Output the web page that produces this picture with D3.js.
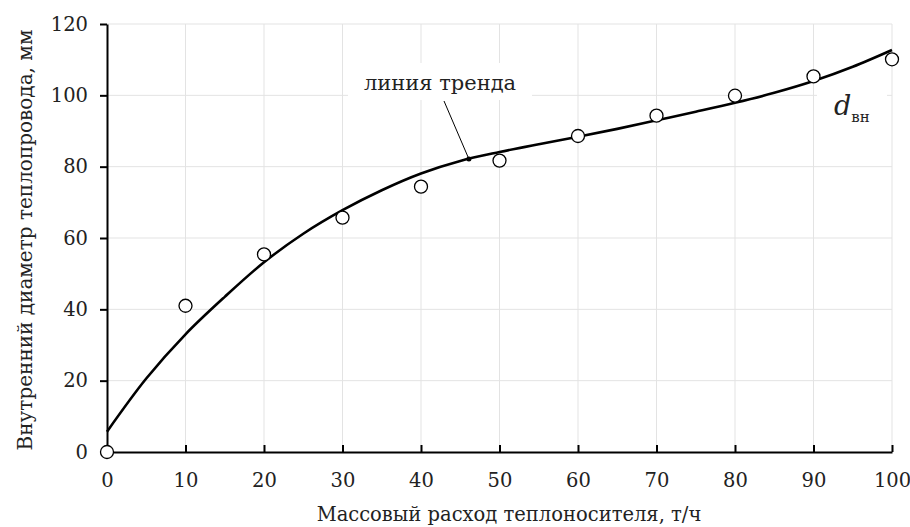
<!DOCTYPE html>
<html>
<head>
<meta charset="utf-8">
<script src="https://cdn.jsdelivr.net/npm/d3@7"></script>
<style>
  body { margin: 0; background: #fff; }
  text { font-family: "DejaVu Serif", serif; fill: #222; }
</style>
</head>
<body>
<div id="container"></div>
<script>
/* DATA */
const flowX = [0, 10, 20, 30, 40, 50, 60, 70, 80, 90, 100];
const diamY = [0, 41.0, 55.4, 65.7, 74.4, 81.7, 88.6, 94.3, 99.9, 105.3, 110.1];
// trend line
const trendX = [0, 5, 10, 15, 20, 25, 30, 35, 40, 45, 50, 55, 60, 65, 70, 75, 80, 85, 90, 95, 100];
const trendY = [5.7, 20.6, 33, 43.5, 53.2, 61.2, 67.8, 73.4, 78.1, 81.6, 84.1, 86.3, 88.4, 90.6, 93.0, 95.4, 97.9, 100.7, 104, 108, 112.7];
const xTicks = [0, 10, 20, 30, 40, 50, 60, 70, 80, 90, 100];
const yTicks = [0, 20, 40, 60, 80, 100, 120];
const calloutX = 46.1;

/* CONSTANTS */
const width = 910, height = 527;
const margin = {top: 24, bottom: 75, left: 107, right: 18};

const svg = d3.select("#container").append("svg")
  .attr("width", width).attr("height", height);

/* SCALES */
const xScale = d3.scaleLinear().domain([0, 100]).range([margin.left, width - margin.right]);
const yScale = d3.scaleLinear().domain([0, 120]).range([height - margin.bottom, margin.top]);

// grid
svg.append("g").selectAll("line.vg")
  .data(xTicks.slice(1))
  .join("line")
  .attr("x1", d => xScale(d)).attr("x2", d => xScale(d))
  .attr("y1", yScale(0)).attr("y2", yScale(120))
  .attr("stroke", "#e3e3e3").attr("stroke-width", 1);
svg.append("g").selectAll("line.hg")
  .data(yTicks.slice(1))
  .join("line")
  .attr("x1", xScale(0)).attr("x2", xScale(100))
  .attr("y1", d => yScale(d)).attr("y2", d => yScale(d))
  .attr("stroke", "#e3e3e3").attr("stroke-width", 1);

// white boxes behind labels
svg.append("rect").attr("x", 348).attr("y", 63).attr("width", 184).attr("height", 37).attr("fill", "#fff");
svg.append("rect").attr("x", 817).attr("y", 90).attr("width", 70).attr("height", 40).attr("fill", "#fff");

// axes
const xAxisGroup = svg.append("g")
  .attr("transform", `translate(0,${yScale(0)})`)
  .call(d3.axisBottom(xScale).tickValues(xTicks).tickSize(-7).tickPadding(21).tickSizeOuter(0));
const yAxisGroup = svg.append("g")
  .attr("transform", `translate(${xScale(0)},0)`)
  .call(d3.axisLeft(yScale).tickValues(yTicks).tickSize(7).tickPadding(12).tickSizeOuter(0));
[xAxisGroup, yAxisGroup].forEach(g => {
  g.select(".domain").attr("stroke", "#000").attr("stroke-width", 2);
  g.selectAll(".tick line").attr("stroke", "#000").attr("stroke-width", 2);
  g.selectAll(".tick text").style("font-family", "DejaVu Serif").style("font-size", "19.5px").attr("fill", "#222");
});

// trend line
const trend = trendX.map((x, i) => ({x, y: trendY[i]}));
const line = d3.line().x(d => xScale(d.x)).y(d => yScale(d.y)).curve(d3.curveCatmullRom);
svg.append("path").datum(trend)
  .attr("d", line).attr("fill", "none").attr("stroke", "#000").attr("stroke-width", 2.6);

// points
const pts = flowX.map((x, i) => ({x, y: diamY[i]}));
svg.append("g").selectAll("circle")
  .data(pts)
  .join("circle")
  .attr("cx", d => xScale(d.x)).attr("cy", d => yScale(d.y))
  .attr("r", 6.5)
  .attr("fill", "#fff").attr("stroke", "#000").attr("stroke-width", 1.3);

// callout
const cy = yScale(d3.interpolateNumber(trendY[9], trendY[10])((calloutX - 45) / 5));
svg.append("line")
  .attr("x1", 444).attr("y1", 101).attr("x2", xScale(calloutX)).attr("y2", cy)
  .attr("stroke", "#000").attr("stroke-width", 1);
svg.append("circle").attr("cx", xScale(calloutX)).attr("cy", cy).attr("r", 2.5).attr("fill", "#000");
svg.append("text").attr("x", 440).attr("y", 90).attr("text-anchor", "middle")
  .style("font-size", "21px").text("линия тренда");

// d_вн
const dl = svg.append("text").attr("x", 834).attr("y", 115);
dl.append("tspan").style("font-style", "italic").style("font-size", "27px").text("d");
dl.append("tspan").attr("dy", 7).style("font-size", "15px").text("вн");

// axis titles
svg.append("text").attr("x", 509).attr("y", 521)
  .attr("text-anchor", "middle").style("font-size", "19.5px")
  .text("Массовый расход теплоносителя, т/ч");
svg.append("text").attr("transform", `translate(32,240) rotate(-90)`)
  .attr("text-anchor", "middle").style("font-size", "20px")
  .text("Внутренний диаметр теплопровода, мм");
</script>
</body>
</html>
